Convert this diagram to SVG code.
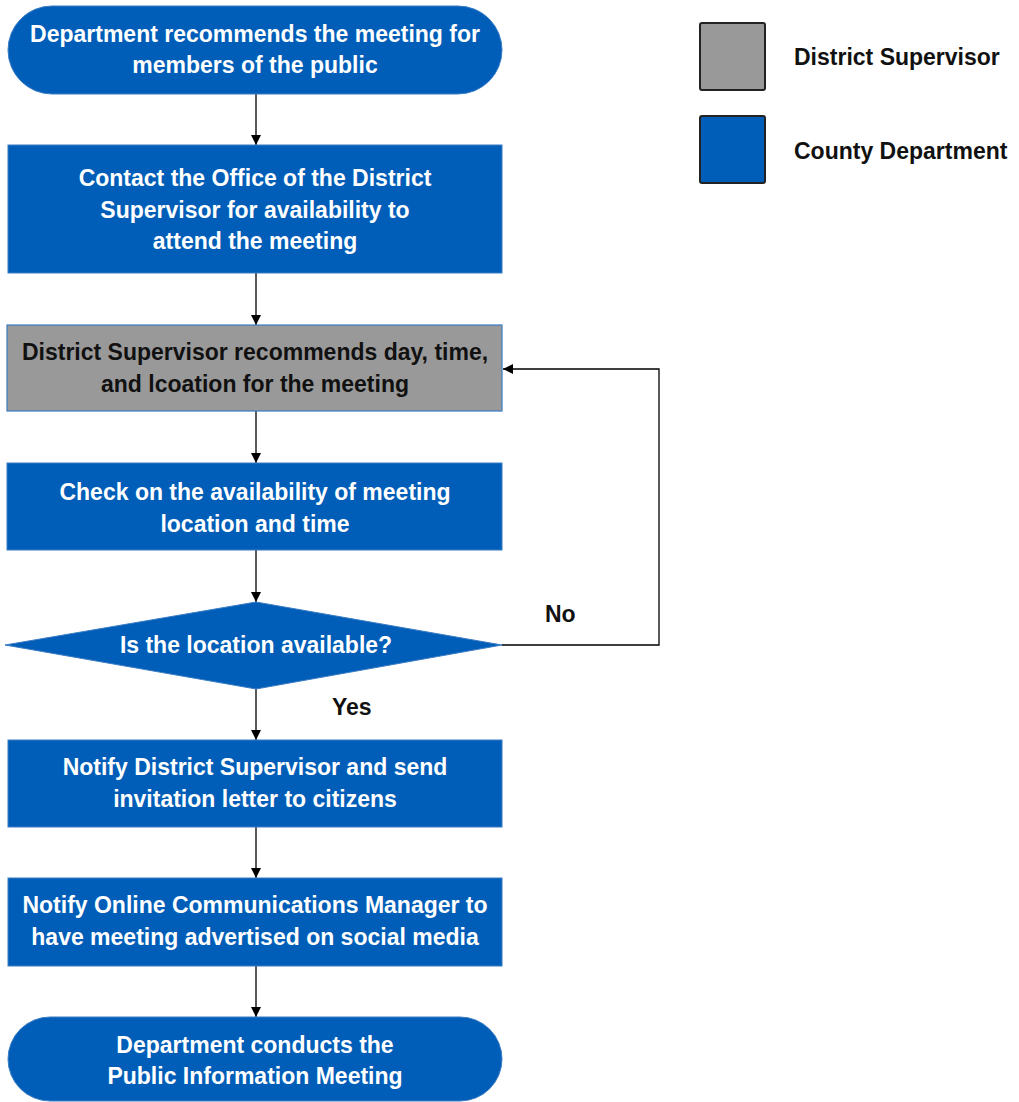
<svg xmlns="http://www.w3.org/2000/svg" width="1019" height="1102" viewBox="0 0 1019 1102">
  <style>
    .blue { fill: #005EB8; stroke: #3A7CC4; stroke-width: 1; }
    .gray { fill: #999999; stroke: #3A7CC4; stroke-width: 1.2; }
    .lbl { font-family: "Liberation Sans", Arial, sans-serif; font-weight: bold; font-size: 23px; text-anchor: middle; fill: #FFFFFF; }
    .dark { fill: #111111; }
    .note { font-family: "Liberation Sans", Arial, sans-serif; font-weight: bold; font-size: 23px; fill: #111111; }
    .edge { fill: none; stroke: #000000; stroke-width: 1.3; }
    .key { stroke: #222222; stroke-width: 2; }
  </style>
  <defs>
    <marker id="arrow" viewBox="0 0 10 10" refX="10" refY="5" markerWidth="10" markerHeight="10" markerUnits="userSpaceOnUse" orient="auto">
      <path d="M0,0 L10,5 L0,10 z" fill="#000000"/>
    </marker>
  </defs>
  <rect width="1019" height="1102" fill="#FFFFFF"/>

  <!-- connectors -->
  <g id="connectors">
    <line class="edge" x1="256" y1="94" x2="256" y2="145" marker-end="url(#arrow)"/>
    <line class="edge" x1="256" y1="273" x2="256" y2="325" marker-end="url(#arrow)"/>
    <line class="edge" x1="256" y1="411" x2="256" y2="463" marker-end="url(#arrow)"/>
    <line class="edge" x1="256" y1="550" x2="256" y2="602" marker-end="url(#arrow)"/>
    <line class="edge" x1="256" y1="689" x2="256" y2="740" marker-end="url(#arrow)"/>
    <line class="edge" x1="256" y1="827" x2="256" y2="878" marker-end="url(#arrow)"/>
    <line class="edge" x1="256" y1="966" x2="256" y2="1017" marker-end="url(#arrow)"/>
    <polyline class="edge" points="502,645 659,645 659,369 503,369" marker-end="url(#arrow)"/>
    <text class="note" x="545" y="622">No</text>
    <text class="note" x="332" y="715">Yes</text>
  </g>

  <!-- start -->
  <g id="start">
    <rect class="blue" x="8" y="6" width="494" height="88" rx="44" ry="44"/>
    <text class="lbl" x="255" y="42">Department recommends the meeting for</text>
    <text class="lbl" x="255" y="73">members of the public</text>
  </g>

  <g id="contact-office">
    <rect class="blue" x="8" y="145" width="494" height="128"/>
    <text class="lbl" x="255" y="186">Contact the Office of the District</text>
    <text class="lbl" x="255" y="218">Supervisor for availability to</text>
    <text class="lbl" x="255" y="249">attend the meeting</text>
  </g>

  <g id="supervisor-recommends">
    <rect class="gray" x="7" y="325" width="495" height="86"/>
    <text class="lbl dark" x="255" y="360">District Supervisor recommends day, time,</text>
    <text class="lbl dark" x="255" y="392">and lcoation for the meeting</text>
  </g>

  <g id="check-availability">
    <rect class="blue" x="7" y="463" width="495" height="87"/>
    <text class="lbl" x="255" y="500">Check on the availability of meeting</text>
    <text class="lbl" x="255" y="532">location and time</text>
  </g>

  <g id="location-decision">
    <polygon class="blue" points="256,602 502,645 256,689 5,645"/>
    <text class="lbl" x="256" y="653">Is the location available?</text>
  </g>

  <g id="notify-supervisor">
    <rect class="blue" x="8" y="740" width="494" height="87"/>
    <text class="lbl" x="255" y="775">Notify District Supervisor and send</text>
    <text class="lbl" x="255" y="807">invitation letter to citizens</text>
  </g>

  <g id="notify-online">
    <rect class="blue" x="8" y="878" width="494" height="88"/>
    <text class="lbl" x="255" y="913">Notify Online Communications Manager to</text>
    <text class="lbl" x="255" y="945">have meeting advertised on social media</text>
  </g>

  <g id="end">
    <rect class="blue" x="8" y="1017" width="494" height="84" rx="42" ry="42"/>
    <text class="lbl" x="255" y="1053">Department conducts the</text>
    <text class="lbl" x="255" y="1084">Public Information Meeting</text>
  </g>

  <!-- legend -->
  <g id="legend-supervisor">
    <rect class="key" x="700" y="23" width="65" height="67" rx="2" fill="#999999"/>
    <text class="note" x="794" y="65">District Supervisor</text>
  </g>
  <g id="legend-department">
    <rect class="key" x="700" y="116" width="65" height="67" rx="2" fill="#005EB8"/>
    <text class="note" x="794" y="159">County Department</text>
  </g>
</svg>
